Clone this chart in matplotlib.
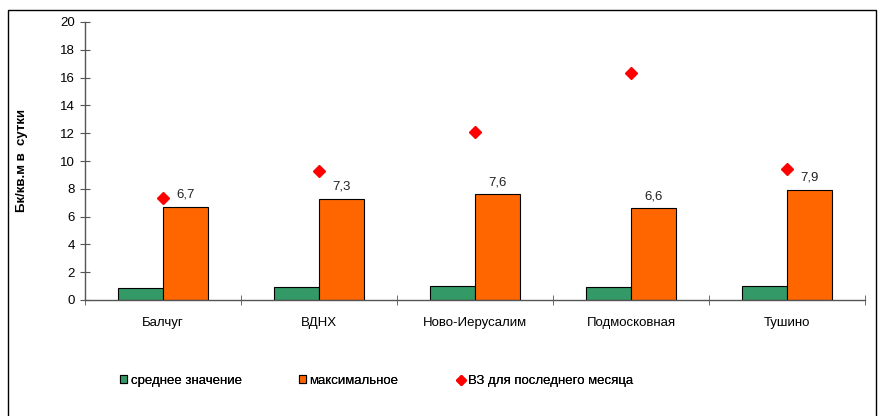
import matplotlib
matplotlib.use("Agg")
import matplotlib.pyplot as plt
from matplotlib.patches import Rectangle
import numpy as np

plt.rcParams['font.family'] = ['Liberation Sans', 'DejaVu Sans']

categories = ["Балчуг", "ВДНХ", "Ново-Иерусалим", "Подмосковная", "Тушино"]
mean_vals = [0.85, 0.93, 1.0, 0.91, 0.98]
max_vals = [6.7, 7.3, 7.6, 6.6, 7.9]
last_month = [7.35, 9.3, 12.1, 16.35, 9.45]
max_labels = ["6,7", "7,3", "7,6", "6,6", "7,9"]

W, H = 881, 416
fig = plt.figure(figsize=(W/100, H/100), dpi=100)
ax = fig.add_axes([85/W, 1-300/H, (865-85)/W, (300-22)/H])

x = np.arange(len(categories))
bw = 0.29
b1 = ax.bar(x - bw/2, mean_vals, bw, color='#339966', edgecolor='black', linewidth=0.8,
            label='среднее значение', zorder=2)
b2 = ax.bar(x + bw/2, max_vals, bw, color='#FF6600', edgecolor='black', linewidth=0.8,
            label='максимальное', zorder=2)
l3, = ax.plot(x, last_month, linestyle='none', marker='D', color='#FF0000', markersize=6,
              label='ВЗ для последнего месяца', zorder=3)

for xi, v, lab in zip(x, max_vals, max_labels):
    ax.text(xi + bw/2, v + 0.45, lab, ha='center', va='bottom', fontsize=9.5, color='#222222')

ax.set_xlim(-0.5, len(categories) - 0.5)
ax.set_ylim(0, 20)
ax.set_yticks(range(0, 21, 2))
ax.set_xticks(x)
ax.set_xticklabels(categories, fontsize=9.5)
ax.set_xticks(np.arange(-0.5, len(categories), 1.0), minor=True)
ax.tick_params(axis='x', which='major', length=0, pad=12)
ax.tick_params(axis='x', which='minor', direction='inout', length=7, color='#555555')
ax.tick_params(axis='y', direction='inout', length=7, color='#555555', labelsize=9.5, pad=4)
for s in ['top', 'right']:
    ax.spines[s].set_visible(False)
for s in ['left', 'bottom']:
    ax.spines[s].set_color('#555555')
    ax.spines[s].set_linewidth(1.0)

fig.text(22/W, 1-160/H, "Бк/кв.м в  сутки", rotation=90, ha='center', va='center',
         fontsize=9.5, fontweight='bold')

for h, xpos in [(b1, 120), (b2, 299), (l3, 457)]:
    lg = fig.legend(handles=[h], loc='center left', bbox_to_anchor=(xpos/W, 1-381/H),
                    frameon=False, fontsize=9.5, handlelength=0.55, handleheight=0.55,
                    handletextpad=0.25, borderpad=0, borderaxespad=0, markerscale=0.8)
    fig.add_artist(lg)

fig.patches.append(Rectangle((8/W, -0.05), (876-8)/W, (416-10)/H + 0.05,
                             transform=fig.transFigure, fill=False, edgecolor='black',
                             linewidth=1.0))

fig.savefig("out.png", dpi=100)
